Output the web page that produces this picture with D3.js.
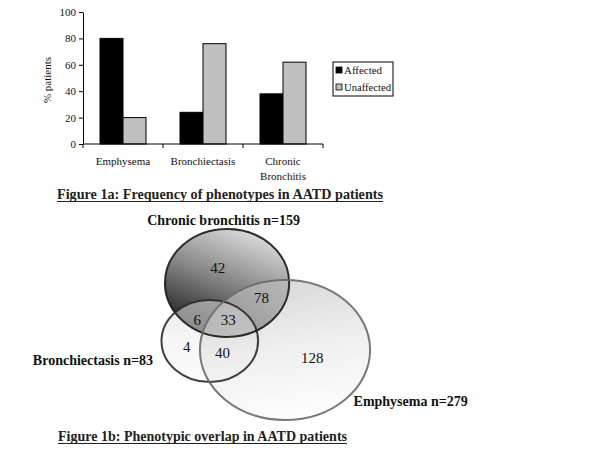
<!DOCTYPE html>
<html>
<head>
<meta charset="utf-8">
<script src="https://cdn.jsdelivr.net/npm/d3@7"></script>
<style>
  body { margin: 0; background: #fff; }
  svg { font-family: "Liberation Serif", "DejaVu Serif", serif; }
</style>
</head>
<body>
<svg id="chart" width="600" height="450"></svg>
<script>
// Figure 1a data
const categories = ["Emphysema", "Bronchiectasis", "Chronic Bronchitis"]
const seriesNames = ["Affected", "Unaffected"]
const affected = [80, 24, 38]
const unaffected = [20, 76, 62]
const yTicks = [0, 20, 40, 60, 80, 100]

// Figure 1b data (Venn region counts)
const setNames = ["Chronic bronchitis", "Bronchiectasis", "Emphysema"]
const setTotals = [159, 83, 279]
const regionLabels = ["CB", "CB+B", "CB+B+E", "CB+E", "B", "B+E", "E"]
const regionCounts = [42, 6, 33, 78, 4, 40, 128]

const colors = { Affected: "#000", Unaffected: "#c0c0c0" }

const svg = d3.select("#chart")

/**
 * Grouped bar chart, figure 1a.
 */
function drawBars() {
  const x = d3.scaleBand()
    .domain(categories)
    .range([83, 323])
    .paddingInner(0.425)
    .paddingOuter(0.2125)

  const xSub = d3.scaleBand()
    .domain(seriesNames)
    .range([0, x.bandwidth()])

  const y = d3.scaleLinear()
    .domain([0, 100])
    .range([144, 12])

  const rows = categories.map((cat, i) => ({
    cat,
    values: [
      { key: "Affected", val: affected[i] },
      { key: "Unaffected", val: unaffected[i] },
    ],
  }))

  const g = svg.append("g")

  g.selectAll("g.cat")
    .data(rows)
    .join("g")
    .attr("transform", (d) => `translate(${x(d.cat)},0)`)
    .selectAll("rect")
    .data((d) => d.values)
    .join("rect")
    .attr("x", (d) => xSub(d.key))
    .attr("y", (d) => y(d.val))
    .attr("width", xSub.bandwidth())
    .attr("height", (d) => y(0) - y(d.val))
    .attr("fill", (d) => colors[d.key])
    .attr("stroke", "#000")
    .attr("stroke-width", 1)

  // y axis
  const yAxis = g.append("g")
    .attr("transform", "translate(83,0)")
    .call(d3.axisLeft(y).tickValues(yTicks).tickSize(4).tickSizeOuter(0))
  yAxis.select(".domain").attr("stroke", "#000")
  yAxis.selectAll("text")
    .attr("font-size", 11)
    .attr("font-family", "Liberation Serif")
    .attr("fill", "#111")

  // x axis line with ticks at category boundaries
  const step = x.step()
  const bounds = categories.map((c) => x(c) - x.paddingOuter() * step)
  bounds.push(x.range()[1])
  g.append("line")
    .attr("x1", x.range()[0]).attr("x2", x.range()[1])
    .attr("y1", y(0)).attr("y2", y(0))
    .attr("stroke", "#000")
  g.selectAll("line.bt")
    .data(bounds)
    .join("line")
    .attr("class", "bt")
    .attr("x1", (d) => d).attr("x2", (d) => d)
    .attr("y1", y(0)).attr("y2", y(0) + 4)
    .attr("stroke", "#000")

  // category labels, one word per line
  const catLabels = g.selectAll("text.cat")
    .data(categories)
    .join("text")
    .attr("class", "cat")
    .attr("x", (d) => x(d) + x.bandwidth() / 2)
    .attr("y", 165)
    .attr("text-anchor", "middle")
    .attr("font-size", 11)
    .attr("fill", "#111")
  catLabels.each(function (d) {
    const words = d.split(" ")
    const t = d3.select(this)
    words.forEach((w, i) => {
      t.append("tspan")
        .attr("x", x(d) + x.bandwidth() / 2)
        .attr("dy", i === 0 ? 0 : 14.5)
        .text(w)
    })
  })

  // y label
  g.append("text")
    .attr("transform", "translate(51,80) rotate(-90)")
    .attr("text-anchor", "middle")
    .attr("font-size", 11)
    .attr("fill", "#111")
    .text("% patients")

  // legend
  const lg = g.append("g").attr("transform", "translate(333,62)")
  lg.append("rect")
    .attr("width", 60).attr("height", 34)
    .attr("fill", "#fff").attr("stroke", "#000")
  const items = lg.selectAll("g.item")
    .data(seriesNames)
    .join("g")
    .attr("transform", (d, i) => `translate(3,${5 + i * 17})`)
  items.append("rect")
    .attr("width", 6).attr("height", 6)
    .attr("fill", (d) => colors[d])
    .attr("stroke", "#000")
    .attr("stroke-width", 0.8)
  items.append("text")
    .attr("x", 8).attr("y", 7)
    .attr("font-size", 11)
    .attr("fill", "#111")
    .attr("textLength", (d) => d === "Unaffected" ? 47 : 38)
    .attr("lengthAdjust", "spacingAndGlyphs")
    .text((d) => d)

  // caption
  caption("Figure 1a: Frequency of phenotypes in AATD patients", 57, 199, 326)
}

/**
 * Underlined bold caption.
 */
function caption(text, x0, yBase, width) {
  svg.append("text")
    .attr("x", x0).attr("y", yBase)
    .attr("font-size", 14)
    .attr("font-weight", "bold")
    .attr("fill", "#222")
    .attr("textLength", width)
    .attr("lengthAdjust", "spacingAndGlyphs")
    .text(text)
  svg.append("line")
    .attr("x1", x0).attr("x2", x0 + width)
    .attr("y1", yBase + 2.5).attr("y2", yBase + 2.5)
    .attr("stroke", "#222")
    .attr("stroke-width", 1)
}

/**
 * Venn diagram, figure 1b.
 */
function drawVenn() {
  // layout in venn units (0..100), mapped to pixels through scales
  const vx = d3.scaleLinear().domain([0, 100]).range([150, 380])
  const vy = d3.scaleLinear().domain([0, 100]).range([225, 425])

  const ellipses = [
    { cx: 33.5, cy: 29, rx: 27, ry: 27, grad: "gCB", stroke: "#1a1a1a", op: 1 },
    { cx: 26, cy: 58, rx: 21, ry: 20.5, grad: "gB", stroke: "#2a2a2a", op: 0.55 },
    { cx: 58.7, cy: 62.5, rx: 37, ry: 35, grad: "gE", stroke: "#6a6a6a", op: 0.6 },
  ]
  const labelPos = [
    [29.5, 21.5], [20.5, 47.5], [34, 47.5], [48.5, 36.5],
    [16, 61], [31.5, 64], [70.5, 66.5],
  ]
  const setLabelPos = [[32, -2.5], [1.3, 67.5], [88.5, 88]]
  const setLabelAnchor = ["middle", "end", "start"]

  const defs = svg.append("defs")
  const grads = [
    { id: "gCB", x1: 0.75, y1: 0, x2: 0.3, y2: 1, stops: ["#e2e2e2", "#858585", "#1a1a1a"] },
    { id: "gB", x1: 0, y1: 0, x2: 0, y2: 1, stops: ["#d8d8d8", "#eeeeee", "#f8f8f8"] },
    { id: "gE", x1: 0.3, y1: 0, x2: 0.5, y2: 1, stops: ["#bdbdbd", "#e4e4e4", "#fcfcfc"] },
  ]
  grads.forEach((gd) => {
    const lg = defs.append("linearGradient")
      .attr("id", gd.id)
      .attr("x1", gd.x1).attr("y1", gd.y1)
      .attr("x2", gd.x2).attr("y2", gd.y2)
    gd.stops.forEach((c, i) => {
      lg.append("stop")
        .attr("offset", i / (gd.stops.length - 1))
        .attr("stop-color", c)
    })
  })

  const kx = (vx(100) - vx(0)) / 100
  const ky = (vy(100) - vy(0)) / 100

  const g = svg.append("g")
  g.selectAll("ellipse.fill")
    .data(ellipses)
    .join("ellipse")
    .attr("class", "fill")
    .attr("cx", (d) => vx(d.cx)).attr("cy", (d) => vy(d.cy))
    .attr("rx", (d) => d.rx * kx).attr("ry", (d) => d.ry * ky)
    .attr("fill", (d) => `url(#${d.grad})`)
    .attr("fill-opacity", (d) => d.op)
  g.selectAll("ellipse.edge")
    .data(ellipses)
    .join("ellipse")
    .attr("class", "edge")
    .attr("cx", (d) => vx(d.cx)).attr("cy", (d) => vy(d.cy))
    .attr("rx", (d) => d.rx * kx).attr("ry", (d) => d.ry * ky)
    .attr("fill", "none")
    .attr("stroke", (d) => d.stroke)
    .attr("stroke-width", 2)
    .attr("stroke-opacity", 0.9)

  g.selectAll("text.count")
    .data(regionCounts)
    .join("text")
    .attr("class", "count")
    .attr("x", (d, i) => vx(labelPos[i][0]))
    .attr("y", (d, i) => vy(labelPos[i][1]))
    .attr("text-anchor", "middle")
    .attr("dominant-baseline", "central")
    .attr("font-size", 15)
    .attr("fill", "#111")
    .text((d) => d)

  g.selectAll("text.set")
    .data(setNames)
    .join("text")
    .attr("class", "set")
    .attr("x", (d, i) => vx(setLabelPos[i][0]))
    .attr("y", (d, i) => vy(setLabelPos[i][1]))
    .attr("text-anchor", (d, i) => setLabelAnchor[i])
    .attr("dominant-baseline", "central")
    .attr("font-size", 14)
    .attr("font-weight", "bold")
    .attr("fill", "#111")
    .text((d, i) => `${d} n=${setTotals[i]}`)

  caption("Figure 1b: Phenotypic overlap in AATD patients", 58, 441, 289)
}

drawBars()
drawVenn()
</script>
</body>
</html>
